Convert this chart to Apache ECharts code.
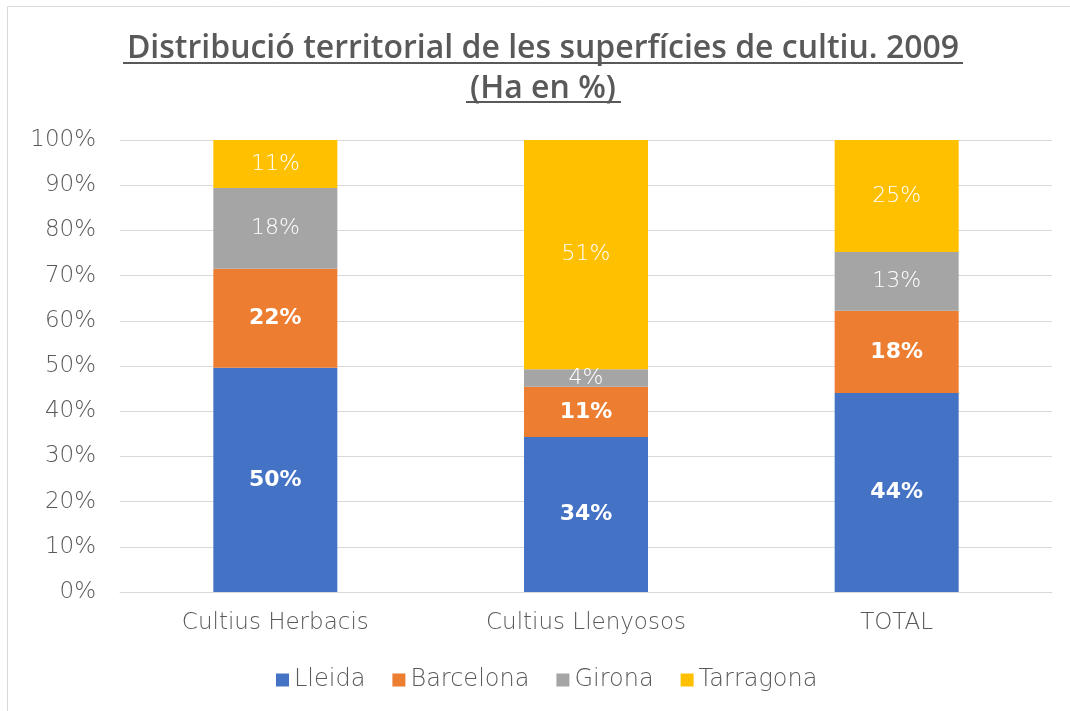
<!DOCTYPE html>
<html>
<head>
<meta charset="utf-8">
<script src="https://cdn.jsdelivr.net/npm/echarts@6/dist/echarts.min.js"></script>
<style>
    html, body { margin: 0; padding: 0; background: #fff; }
    #chart { width: 1070px; height: 711px; }
</style>
</head>
<body>
<div id="chart"></div>
<script>
// dades
const categories = ['Cultius Herbacis', 'Cultius Llenyosos', 'TOTAL'];
const lleida = [49.6, 34.3, 44.0];
const barcelona = [21.9, 11.1, 18.2];
const girona = [17.9, 3.9, 13.0];
const tarragona = [10.6, 50.7, 24.8];
const yTicks = [0, 10, 20, 30, 40, 50, 60, 70, 80, 90, 100];

const titleFont = 'Open Sans';
const font = 'DejaVu Sans';
const grey = '#595959';

let mychart = echarts.init(document.getElementById('chart'));

function serie(name, data, color, weight) {
    return {
        name: name,
        type: 'bar',
        stack: 'total',
        barWidth: 124,
        data: data,
        itemStyle: { color: color },
        label: {
            show: true,
            position: 'inside',
            color: '#fff',
            fontFamily: font,
            fontSize: 22,
            fontWeight: weight,
            formatter: p => Math.round(p.value) + '%'
        }
    };
}

let option = {
    animation: false,
    title: {
        text: 'Distribució territorial de les superfícies de cultiu. 2009\n(Ha en %)',
        left: 538,
        textAlign: 'center',
        top: 24,
        textStyle: {
            color: grey,
            fontFamily: titleFont,
            fontSize: 32,
            fontWeight: 600,
            lineHeight: 40
        }
    },
    grid: { left: 120, right: 18, top: 140, bottom: 119 },
    legend: {
        top: 663,
        left: 271,
        itemWidth: 13,
        itemHeight: 13,
        itemGap: 27,
        icon: 'rect',
        textStyle: { color: grey, fontFamily: font, fontSize: 24, fontWeight: 300 }
    },
    xAxis: {
        type: 'category',
        data: categories,
        axisTick: { show: false },
        axisLine: { lineStyle: { color: '#d9d9d9', width: 1 } },
        axisLabel: { color: grey, fontFamily: font, fontSize: 23, fontWeight: 300, margin: 20 }
    },
    yAxis: {
        type: 'value',
        min: yTicks[0],
        max: yTicks[yTicks.length - 1],
        interval: 10,
        axisLabel: { color: grey, fontFamily: font, fontSize: 23, fontWeight: 300, margin: 24, formatter: '{value}%' },
        splitLine: { lineStyle: { color: '#d9d9d9', width: 1 } }
    },
    graphic: [
        {
            type: 'rect',
            shape: { x: 7.5, y: 6.5, width: 1100, height: 760 },
            style: { fill: 'none', stroke: '#d9d9d9', lineWidth: 1 },
            silent: true
        },
        {
            type: 'line',
            shape: { x1: 123, y1: 63, x2: 963, y2: 63 },
            style: { stroke: grey, lineWidth: 2 }
        },
        {
            type: 'line',
            shape: { x1: 466, y1: 102, x2: 621, y2: 102 },
            style: { stroke: grey, lineWidth: 2 }
        }
    ],
    series: [
        serie('Lleida', lleida, '#4472C4', 'bold'),
        serie('Barcelona', barcelona, '#ED7D31', 'bold'),
        serie('Girona', girona, '#A5A5A5', 300),
        serie('Tarragona', tarragona, '#FFC000', 300)
    ]
};
mychart.setOption(option);
</script>
</body>
</html>
